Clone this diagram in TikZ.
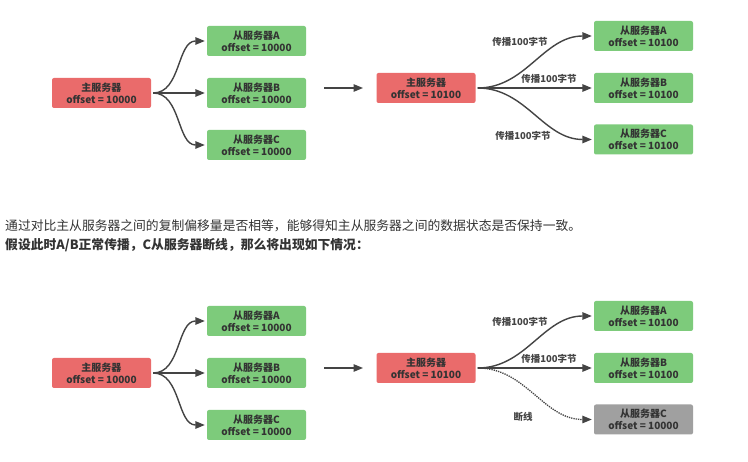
\documentclass[tikz,border=0pt]{standalone}
\usepackage{fontspec}
\setmainfont{Noto Sans CJK SC}
\usetikzlibrary{arrows.meta}
\definecolor{redbox}{HTML}{EA6B6B}
\definecolor{greenbox}{HTML}{7DCB7B}
\definecolor{graybox}{HTML}{A0A0A0}
\definecolor{boxtext}{HTML}{333333}
\definecolor{linecol}{HTML}{444444}
\definecolor{bodytext}{HTML}{333333}
\tikzset{
  srv/.style={rectangle, rounded corners=2pt, minimum width=99pt, minimum height=30pt,
    inner sep=0pt, align=center, text=boxtext, font=\bfseries\fontsize{10}{12}\selectfont},
  master/.style={srv, fill=redbox},
  slave/.style={srv, fill=greenbox},
  deadslave/.style={srv, fill=graybox},
  link/.style={draw=linecol, line width=1.4pt, -{Triangle[length=9.5pt,width=7.5pt]}, shorten <=2pt, shorten >=2pt},
  deadlink/.style={draw=linecol, line width=1.3pt, densely dotted, -{Triangle[length=9.5pt,width=7.5pt]}, shorten <=2pt, shorten >=2pt},
  lbl/.style={text=linecol, font=\bfseries\fontsize{9.5}{11}\selectfont, inner sep=0pt},
  bodyline/.style={anchor=west, text=bodytext, inner sep=0pt, font=\fontsize{12.8}{14}\selectfont},
}
\newcommand{\leftdiagram}{%
  \node[master] (m) at (101.5,93) {主服务器\\offset = 10000};
  \node[slave] (a) at (256.5,41) {从服务器A\\offset = 10000};
  \node[slave] (b) at (256.5,93) {从服务器B\\offset = 10000};
  \node[slave] (c) at (256.5,145) {从服务器C\\offset = 10000};
  \draw[link] (m.east) to[out=0,in=180] (a.west);
  \draw[link] (m.east) -- (b.west);
  \draw[link] (m.east) to[out=0,in=180] (c.west);
  \coordinate (s) at (324,88);
  \coordinate (t) at (363,88);
  \draw[link, line width=1.2pt, shorten <=0pt, shorten >=0pt] (s) -- (t);
}
\begin{document}
\begin{tikzpicture}[x=1pt,y=-1pt]
\useasboundingbox[fill=white] (0,0) rectangle (748,462);

% top diagram
\begin{scope}[name prefix=top-]
  \leftdiagram
  \node[master] (m2) at (426,88) {主服务器\\offset = 10100};
  \node[slave] (a2) at (643.5,36) {从服务器A\\offset = 10100};
  \node[slave] (b2) at (643.5,88) {从服务器B\\offset = 10100};
  \node[slave] (c2) at (643.5,139.5) {从服务器C\\offset = 10100};
  \draw[link] (m2.east) to[out=0,in=180] (a2.west);
  \draw[link] (m2.east) -- (b2.west);
  \draw[link] (m2.east) to[out=0,in=180] (c2.west);
  \node[lbl] (la) at (520,42) {传播100字节};
  \node[lbl] (lb) at (549,79) {传播100字节};
  \node[lbl] (lc) at (523,136) {传播100字节};
\end{scope}

% text
\node[bodyline] (t1) at (5,225.5) {通过对比主从服务器之间的复制偏移量是否相等，能够得知主从服务器之间的数据状态是否保持一致。};
\node[bodyline, font=\bfseries\fontsize{12.8}{14}\selectfont] (t2) at (5,245.5) {假设此时A/B正常传播，C从服务器断线，那么将出现如下情况：};

% bottom diagram
\begin{scope}[name prefix=bot-, shift={(0,280)}]
  \leftdiagram
  \node[master] (m2) at (426,88) {主服务器\\offset = 10100};
  \node[slave] (a2) at (643.5,36) {从服务器A\\offset = 10100};
  \node[slave] (b2) at (643.5,88) {从服务器B\\offset = 10100};
  \node[deadslave] (c2) at (643.5,139.5) {从服务器C\\offset = 10000};
  \draw[link] (m2.east) to[out=0,in=180] (a2.west);
  \draw[link] (m2.east) -- (b2.west);
  \draw[deadlink] (m2.east) to[out=0,in=180] (c2.west);
  \node[lbl] (la) at (520,42) {传播100字节};
  \node[lbl] (lb) at (549,79) {传播100字节};
  \node[lbl] (lc) at (523,137) {断线};
\end{scope}
\end{tikzpicture}
\end{document}
